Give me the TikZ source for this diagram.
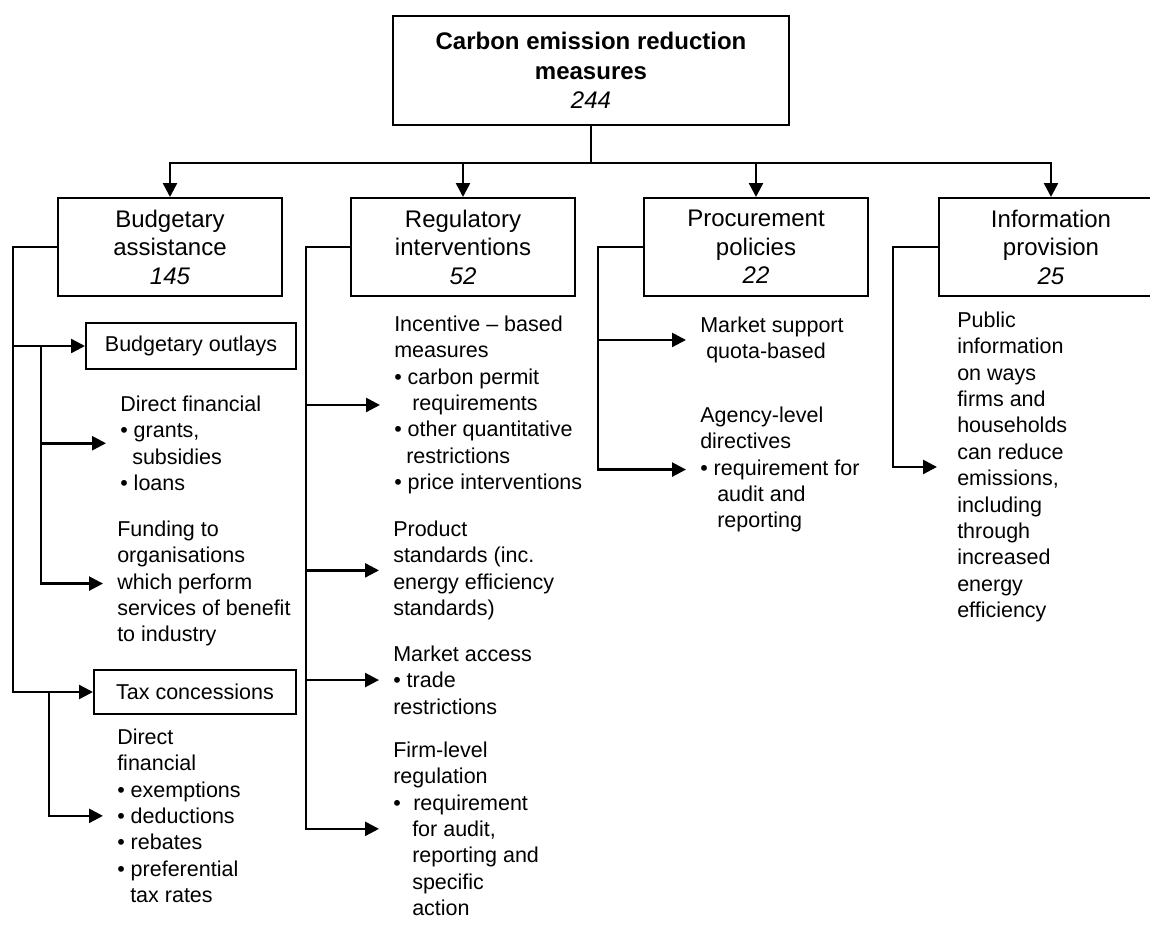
\documentclass[tikz,border=0pt]{standalone}
\usepackage{fontspec}
\setmainfont{Liberation Sans}
\usetikzlibrary{arrows.meta}
\newcommand{\boxfont}{\fontsize{24}{28.5}\selectfont}
\newcommand{\subfont}{\fontsize{21.5}{26.4}\selectfont}

\begin{document}
\begin{tikzpicture}[
  x=1pt, y=-1pt, line width=2.5pt,
  box/.style={draw, line width=2pt, align=center, inner sep=0pt, minimum width=224pt, minimum height=98pt, font=\boxfont},
  subbox/.style={draw, line width=2pt, align=center, inner sep=0pt, font=\subfont},
  txt/.style={anchor=north west, align=left, inner xsep=13pt, inner ysep=0pt, font=\subfont},
  >={Triangle[length=14pt, width=14pt]}
]
\useasboundingbox (0,0) rectangle (1150,934);
\clip (0,0) rectangle (1150,934);
\node[box, minimum width=396pt, minimum height=109pt, font=\fontsize{24}{29.5}\selectfont] (root) at (591,70.5)
  {\textbf{Carbon emission reduction}\\ \textbf{measures}\\ \textit{244}};
\node[box] (budg) at (170,247) {Budgetary\\ assistance\\ \textit{145}};
\node[box] (regu) at (463,247) {Regulatory\\ interventions\\ \textit{52}};
\node[box] (proc) at (756,247) {Procurement\\ policies\\ \textit{22}};
\node[box] (info) at (1051,247) {Information\\ provision\\ \textit{25}};
\node[subbox, minimum width=210pt, minimum height=46pt] (outl) at (191,346) {Budgetary outlays};
\node[subbox, minimum width=202pt, minimum height=44pt] (tax) at (195,692) {Tax concessions};
\node[txt] (dirf) at (106,394.5) {Direct financial\\ • grants,\\ \hspace*{12pt}subsidies\\ • loans};
\node[txt] (fund) at (103,519.5) {Funding to\\ organisations\\ which perform\\ services of benefit\\ to industry};
\node[txt] (taxd) at (103,727.5) {Direct\\ financial\\ • exemptions\\ • deductions\\ • rebates\\ • preferential\\ \hspace*{13pt}tax rates};
\node[txt] (incent) at (380,314.5) {Incentive – based\\ measures\\ • carbon permit\\ \hspace*{18pt}requirements\\ • other quantitative\\ \hspace*{12pt}restrictions\\ • price interventions};
\node[txt] (prod) at (379,519.5) {Product\\ standards (inc.\\ energy efficiency\\ standards)};
\node[txt] (acc) at (379,644.5) {Market access\\ • trade\\ restrictions};
\node[txt] (firm) at (379,740.5) {Firm-level\\ regulation\\ •\hspace{12.5pt}requirement\\ \hspace*{19pt}for audit,\\ \hspace*{19pt}reporting and\\ \hspace*{19pt}specific\\ \hspace*{19pt}action};
\node[txt] (msup) at (686,315.5) {Market support\\ \hspace*{6pt}quota-based};
\node[txt] (agcy) at (686,405.5) {Agency-level\\ directives\\ • requirement for\\ \hspace*{17pt}audit and\\ \hspace*{17pt}reporting};
\node[txt, inner xsep=19pt] (publ) at (937,310.5) {Public\\ information\\ on ways\\ firms and\\ households\\ can reduce\\ emissions,\\ including\\ through\\ increased\\ energy\\ efficiency};
\foreach \n in {budg,regu,proc,info}
  \draw[->] (root.south) -- ++(0,37) -| (\n.north);
\draw[->] (budg.west) -- ++(-44,0) |- (outl.west);
\draw[->] (budg.west) -- ++(-44,0) |- (tax.west);
\draw[->] (outl.west) ++(-44,0) |- (dirf.west);
\draw[->] (outl.west) ++(-44,0) |- (fund.west);
\draw[->] (tax.west) ++(-44,0) |- (taxd.west);
\foreach \n in {incent,prod,acc,firm}
  \draw[->] (regu.west) -- ++(-44,0) |- (\n.west);
\draw[->] (proc.west) -- ++(-45,0) |- (msup.west);
\draw[->] (proc.west) -- ++(-45,0) |- (agcy.west);
\draw[->] (info.west) -- ++(-45,0) |- (publ.west);
\end{tikzpicture}
\end{document}
